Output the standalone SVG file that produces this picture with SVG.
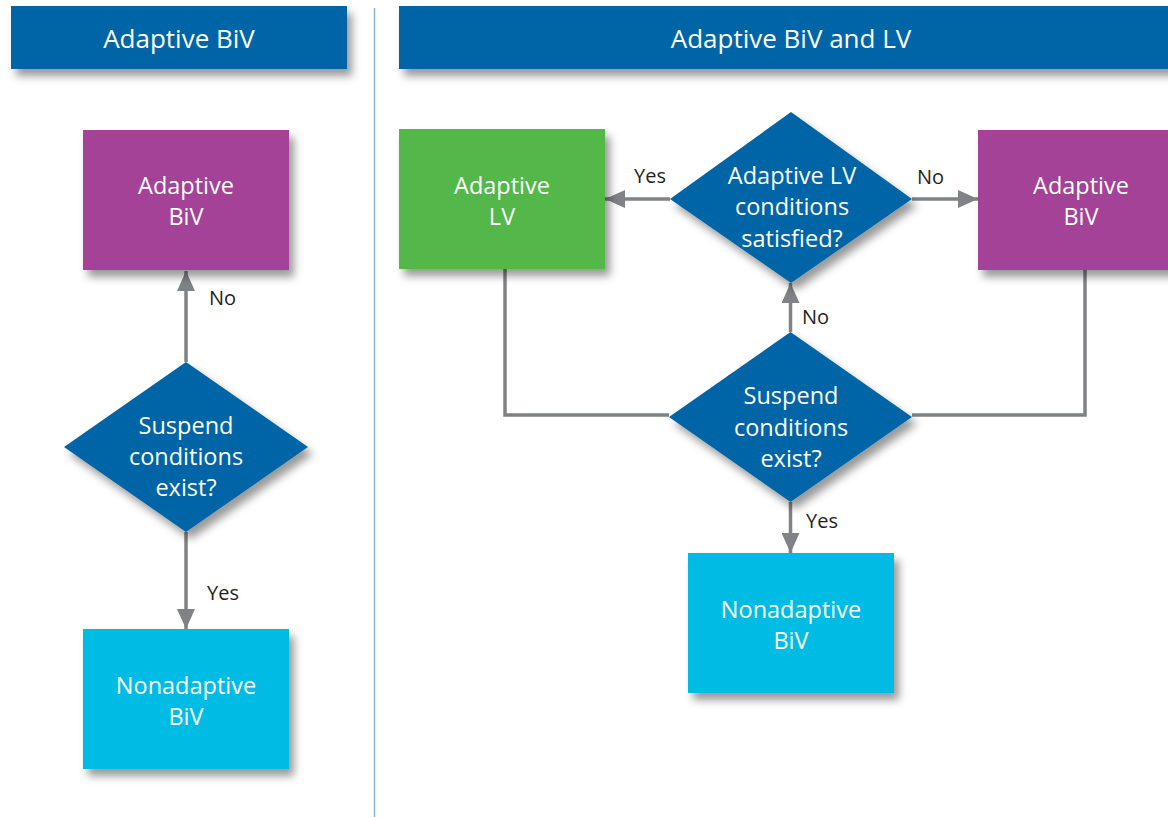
<svg xmlns="http://www.w3.org/2000/svg" width="1168" height="817" viewBox="0 0 1168 817">
<style>
.hdr{fill:#0065A6}
.t{font-family:"Open Sans","Noto Sans",sans-serif;fill:#ffffff;text-anchor:middle}
.ht{font-size:26px}
.nt{font-size:23.5px}
.lbl{font-family:"Open Sans","Noto Sans",sans-serif;font-size:20px;fill:#231F20}
.dia{fill:#0065A6}
.purple{fill:#A44397}
.green{fill:#52B848}
.cyan{fill:#00BCE4}
.conn{stroke:#808285;stroke-width:3.5;fill:none}
</style>
<defs>
<filter id="sh" x="-20%" y="-20%" width="150%" height="160%">
<feDropShadow dx="5" dy="7" stdDeviation="4" flood-color="#000" flood-opacity="0.4"/>
</filter>
<marker id="ah" markerUnits="userSpaceOnUse" markerWidth="20" markerHeight="18" refX="20" refY="9" orient="auto">
<path d="M0,0 L20,9 L0,18 Z" fill="#808285"/>
</marker>
</defs>
<rect width="1168" height="817" fill="#ffffff"/>
<line x1="374.5" y1="8" x2="374.5" y2="817" stroke="#8FB4DE" stroke-width="1.5"/>

<g id="header-left">
<rect class="hdr" x="11" y="6" width="336" height="63" filter="url(#sh)"/>
<text class="t ht" x="179" y="48">Adaptive BiV</text>
</g>
<g id="header-right">
<rect class="hdr" x="399" y="6" width="790" height="63" filter="url(#sh)"/>
<text class="t ht" x="791" y="48">Adaptive BiV and LV</text>
</g>

<g id="connectors">
<line class="conn" x1="186" y1="362" x2="186" y2="271" marker-end="url(#ah)"/>
<line class="conn" x1="186" y1="532" x2="186" y2="629" marker-end="url(#ah)"/>
<line class="conn" x1="670" y1="199" x2="605" y2="199" marker-end="url(#ah)"/>
<line class="conn" x1="912" y1="199" x2="978" y2="199" marker-end="url(#ah)"/>
<line class="conn" x1="790.5" y1="332" x2="790.5" y2="283" marker-end="url(#ah)"/>
<line class="conn" x1="790.5" y1="502" x2="790.5" y2="553" marker-end="url(#ah)"/>
<polyline class="conn" points="505,269 505,415 669,415"/>
<polyline class="conn" points="1085,270 1085,415 912,415"/>
<text class="lbl" x="209" y="305">No</text>
<text class="lbl" x="207" y="600">Yes</text>
<text class="lbl" x="634" y="183">Yes</text>
<text class="lbl" x="917" y="184">No</text>
<text class="lbl" x="802" y="324">No</text>
<text class="lbl" x="806" y="528">Yes</text>
</g>

<g id="left-adaptive-biv">
<rect class="purple" x="83" y="130" width="206" height="140" filter="url(#sh)"/>
<text class="t nt" x="186" y="194">Adaptive</text>
<text class="t nt" x="186" y="225">BiV</text>
</g>
<g id="left-suspend">
<polygon class="dia" points="186,362 308,447 186,532 64,447" filter="url(#sh)"/>
<text class="t nt" x="186" y="434">Suspend</text>
<text class="t nt" x="186" y="465">conditions</text>
<text class="t nt" x="186" y="496">exist?</text>
</g>
<g id="left-nonadaptive">
<rect class="cyan" x="83" y="629" width="206" height="140" filter="url(#sh)"/>
<text class="t nt" x="186" y="694">Nonadaptive</text>
<text class="t nt" x="186" y="725">BiV</text>
</g>

<g id="right-adaptive-lv">
<rect class="green" x="399" y="129" width="206" height="140" filter="url(#sh)"/>
<text class="t nt" x="502" y="194">Adaptive</text>
<text class="t nt" x="502" y="225">LV</text>
</g>
<g id="right-lv-conditions">
<polygon class="dia" points="791,112 912,199 791,283 670,199" filter="url(#sh)"/>
<text class="t nt" x="792" y="184">Adaptive LV</text>
<text class="t nt" x="792" y="215">conditions</text>
<text class="t nt" x="792" y="247">satisfied?</text>
</g>
<g id="right-adaptive-biv">
<rect class="purple" x="978" y="130" width="206" height="140" filter="url(#sh)"/>
<text class="t nt" x="1081" y="194">Adaptive</text>
<text class="t nt" x="1081" y="225">BiV</text>
</g>
<g id="right-suspend">
<polygon class="dia" points="790.5,332 912,417 790.5,502 669,417" filter="url(#sh)"/>
<text class="t nt" x="791" y="404">Suspend</text>
<text class="t nt" x="791" y="436">conditions</text>
<text class="t nt" x="791" y="467">exist?</text>
</g>
<g id="right-nonadaptive">
<rect class="cyan" x="688" y="553" width="206" height="140" filter="url(#sh)"/>
<text class="t nt" x="791" y="618">Nonadaptive</text>
<text class="t nt" x="791" y="649">BiV</text>
</g>
</svg>
